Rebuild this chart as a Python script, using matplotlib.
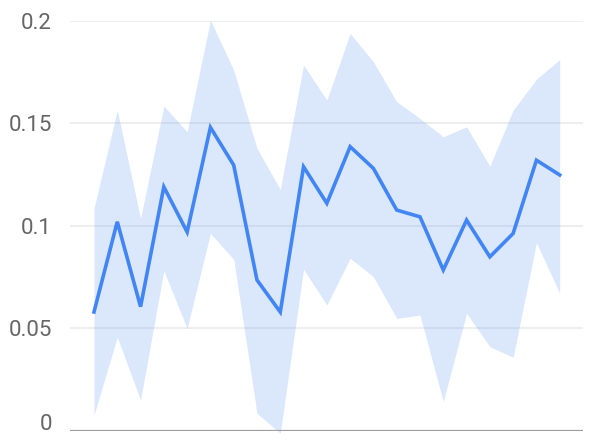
import matplotlib
matplotlib.use("Agg")
import matplotlib.pyplot as plt
import matplotlib.transforms as mtransforms
import numpy as np

# series
x = np.arange(21)
mean = [0.058, 0.102, 0.0606, 0.119, 0.097, 0.148, 0.1296, 0.0736, 0.058, 0.1288, 0.111,
        0.1386, 0.128, 0.1077, 0.1044, 0.0785, 0.1028, 0.0849, 0.0963, 0.132, 0.1248]
upper = [0.1085, 0.1564, 0.1036, 0.1584, 0.1459, 0.2003, 0.1759, 0.1378, 0.1178, 0.1784, 0.1613,
         0.1938, 0.18, 0.1605, 0.1524, 0.1434, 0.1483, 0.1291, 0.1564, 0.1715, 0.1811]
lower = [0.0078, 0.0457, 0.0151, 0.0781, 0.05, 0.0963, 0.0837, 0.0086, -0.0011, 0.0788, 0.0614,
         0.0842, 0.0752, 0.0549, 0.0565, 0.0143, 0.0574, 0.0411, 0.0359, 0.0918, 0.0671]
yticks = [0, 0.05, 0.1, 0.15, 0.2]
ylabels = ["0", "0.05", "0.1", "0.15", "0.2"]

plt.rcParams['font.family'] = ['Roboto', 'DejaVu Sans']

fig = plt.figure(figsize=(5.9, 4.4), dpi=100)
ax = fig.add_axes([70/590, 9/440, 513/590, 410.3/440])

for t in yticks[1:]:
    ax.axhline(t, color='#ebebeb', lw=1.2, zorder=0)
ax.axhline(0, color='#9e9e9e', lw=1.6, zorder=4)

ax.fill_between(x, lower, upper, color='#4285F4', alpha=0.19, lw=0, zorder=2, clip_on=False)
ax.plot(x, mean, color='#4285F4', lw=2.6, zorder=3, solid_joinstyle='miter')

ax.set_xlim(-1.03, 21)
ax.set_ylim(0, 0.2)
ax.set_yticks(yticks)
ax.set_yticklabels(ylabels)
ax.set_xticks([])
ax.tick_params(axis='y', length=0, pad=13, labelsize=16, labelcolor='#666666')
for s in ax.spines.values():
    s.set_visible(False)

# bottom label sits a little higher so it stays inside the image
lab0 = ax.get_yticklabels()[0]
lab0.set_transform(lab0.get_transform() + mtransforms.ScaledTranslation(0, 9/100, fig.dpi_scale_trans))

fig.savefig("out.png", dpi=100)
